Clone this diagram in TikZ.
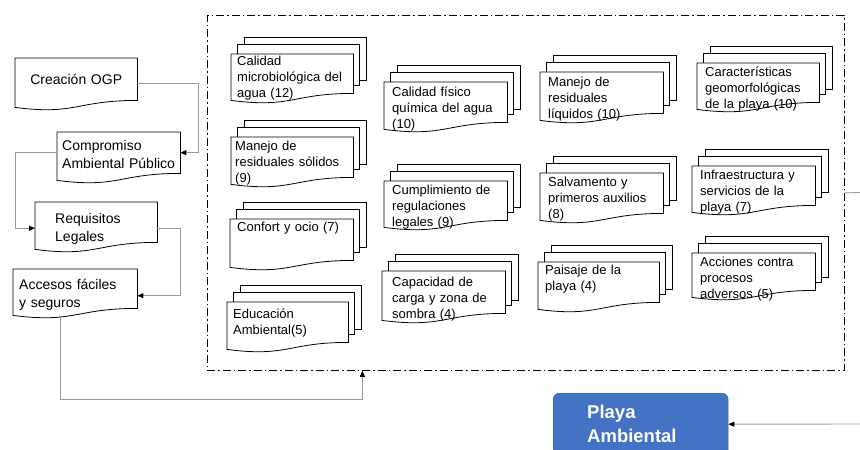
\documentclass[tikz,border=0pt]{standalone}
\usepackage{fontspec}
\setmainfont{Liberation Sans}
\usetikzlibrary{arrows.meta,calc,backgrounds}
\definecolor{playablue}{HTML}{4472C4}

\begin{document}
\begin{tikzpicture}[x=1pt,y=-1pt,
    doc/.style={anchor=north west,align=left,inner xsep=6pt,inner ysep=4pt,font=\fontsize{14}{18}\selectfont},
    mdoc/.style={anchor=north west,align=left,inner xsep=8pt,inner ysep=2pt,text height=11pt,font=\fontsize{13}{16}\selectfont},
    page/.style={draw,line width=0.8pt,fill=white},
    conn/.style={draw=black!40,line width=0.9pt,-{Triangle[length=6pt,width=5pt,color=black]}}]
  \useasboundingbox (0,0) rectangle (860,450);
  \node (n1) at (15,58)[doc,align=center,text width=110pt,minimum height=42pt]{Creación OGP};
  \node (n2) at (57,132)[doc,inner xsep=5pt,text width=113pt,text height=14pt,text depth=19pt]{Compromiso\\Ambiental Público};
  \node (n3) at (35,202)[doc,inner xsep=20pt,text width=82pt,text height=17pt,text depth=15pt]{Requisitos\\Legales};
  \node (n4) at (13,269)[doc,text width=112pt,text height=16pt,text depth=15pt]{Accesos fáciles\\y seguros};
  \node (frame) at (207,15)[anchor=north west,draw,line width=0.8pt,dash pattern=on 8pt off 3pt on 1.5pt off 3pt,minimum width=637pt,minimum height=355pt]{};
  \node (m1) at (231,54)[mdoc,inner xsep=6pt,text width=110pt,text height=9pt,text depth=26pt]{Calidad\\microbiológica del\\agua (12)};
  \node (m2) at (231,137)[mdoc,inner xsep=4pt,text width=114pt,text depth=25pt]{Manejo de\\residuales sólidos\\(9)};
  \node (m3) at (230,219)[mdoc,inner xsep=7pt,text width=109pt,text height=10pt,text depth=27pt]{Confort y ocio (7)};
  \node (m4) at (227,302)[mdoc,inner xsep=6pt,text width=109pt,text height=14pt,text depth=22pt]{Educación\\Ambiental(5)};
  \node (m5) at (384,82)[mdoc,text width=107pt,text height=12pt,text depth=24pt]{Calidad físico\\química del agua\\(10)};
  \node (m6) at (384,181)[mdoc,text width=107pt,text depth=24pt]{Cumplimiento de\\regulaciones\\legales (9)};
  \node (m7) at (382,271)[mdoc,inner xsep=10pt,text width=103pt,text height=13pt,text depth=25pt]{Capacidad de\\carga y zona de\\sombra (4)};
  \node (m8) at (540,72)[mdoc,text width=107pt,text height=12pt,text depth=25pt]{Manejo de\\residuales\\líquidos (10)};
  \node (m9) at (540,173)[mdoc,text width=107pt,text depth=25pt]{Salvamento y\\primeros auxilios\\(8)};
  \node (m10) at (538,262)[mdoc,inner xsep=7pt,text width=107pt,text height=10pt,text depth=26pt]{Paisaje de la\\playa (4)};
  \node (m11) at (697,63)[mdoc,text width=106pt,text depth=24pt]{Características\\geomorfológicas\\de la playa (10)};
  \node (m12) at (692,166)[mdoc,text width=107pt,text depth=24pt]{Infraestructura y\\servicios de la\\playa (7)};
  \node (m13) at (692,253)[mdoc,text width=107pt,text depth=22pt]{Acciones contra\\procesos\\adversos (5)};
  \node (playa) at (553,393)[anchor=north west,fill=playablue,draw=playablue!85!black,rounded corners=6pt,minimum width=175pt,minimum height=62pt,inner xsep=34pt,text width=107pt,align=left,text=white,font=\bfseries\fontsize{18.5}{24}\selectfont]{Playa\\Ambiental};
  \coordinate (r1) at (860,192.5);
  \coordinate (r2) at (860,424);
  \begin{pgfonlayer}{background}
    \foreach \i in {1,...,13}{
      \draw[page] ($(m\i.north west)+(13,-17)$) rectangle ($(m\i.south east)+(13,-13)$);
      \draw[page] ($(m\i.north west)+(6,-10)$) rectangle ($(m\i.south east)+(6,-8)$);
    }
    \foreach \n in {n1,n2,n3,n4,m1,m2,m3,m4,m5,m6,m7,m8,m9,m10,m11,m12,m13}
      \draw[page] (\n.north west) -- (\n.north east) -- (\n.south east) .. controls (\n.south) and ($(\n.south)+(0,15)$) .. ($(\n.south west)+(0,7)$) -- cycle;
  \end{pgfonlayer}
  \draw[conn] ([yshift=-4pt]n1.east) -- ++(61,0) |- (n2.east);
  \draw[conn] (n2.west) -- ++(-42,0) |- ([yshift=-6pt]n3.west);
  \draw[conn] ([yshift=-6pt]n3.east) -- ++(23,0) |- ([yshift=-7pt]n4.east);
  \draw[conn] ($(n4.south west)+(47,8)$) -- ++(0,83) -| ([xshift=-163.5pt]frame.south);
  \draw[draw=black!40,line width=0.9pt] (frame.east) -- (r1);
  \draw[conn] (r2) -- (playa.east);
\end{tikzpicture}
\end{document}
